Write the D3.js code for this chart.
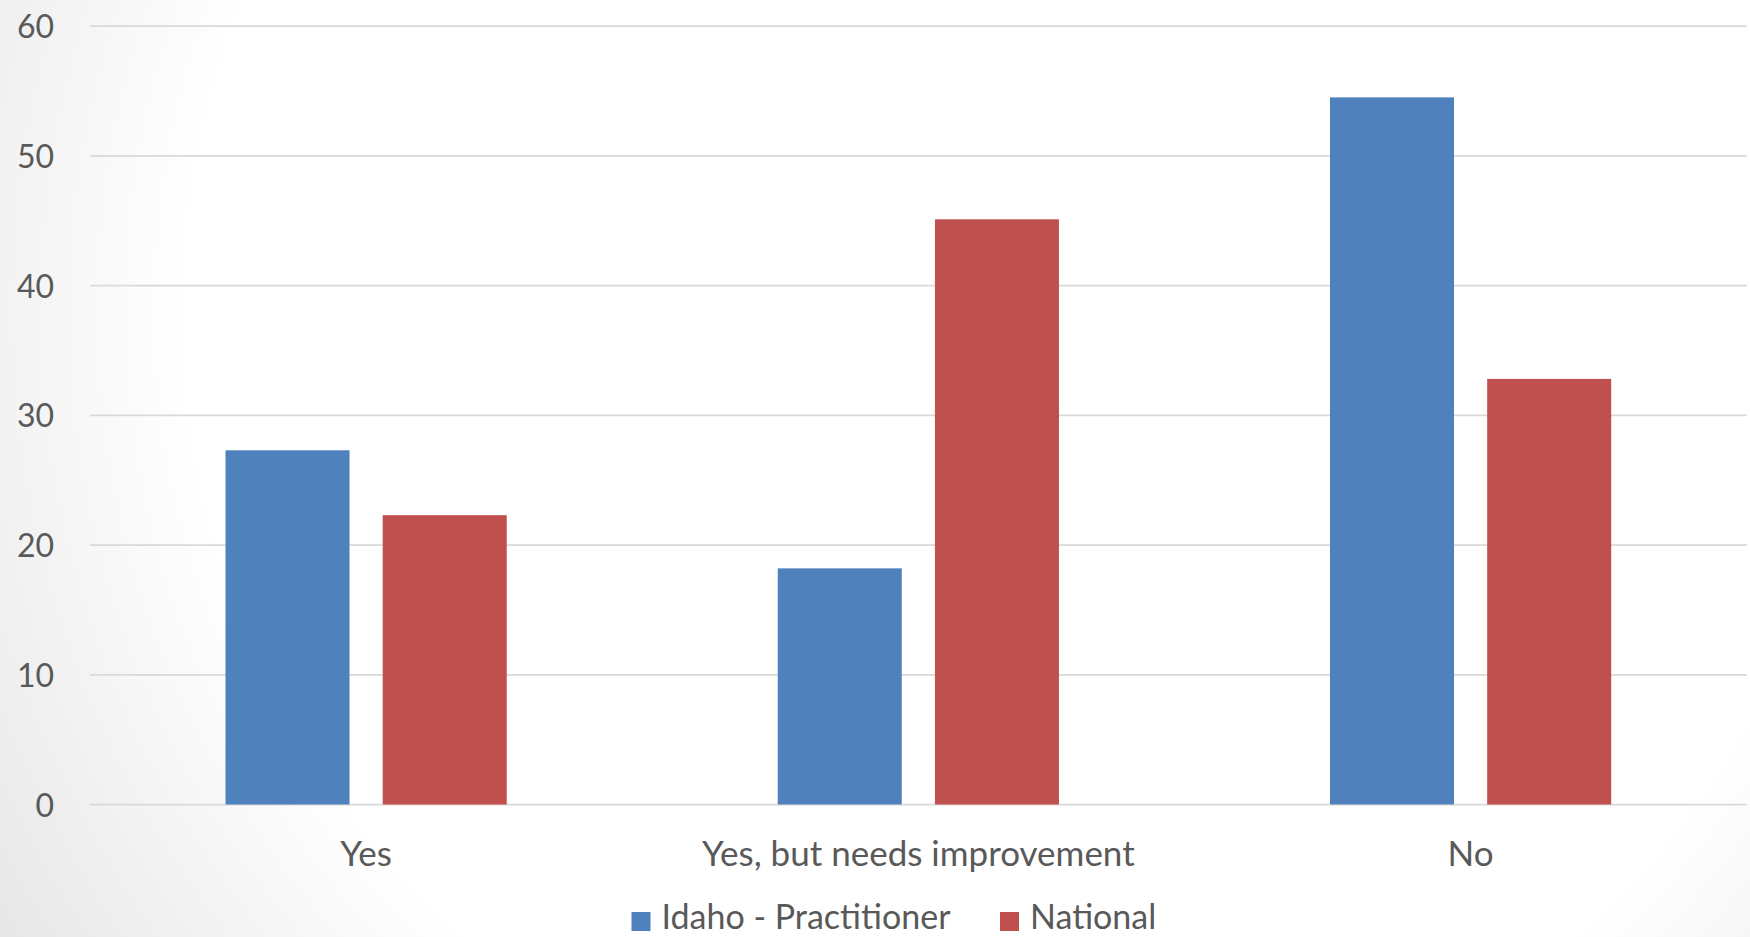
<!DOCTYPE html>
<html>
<head>
<meta charset="utf-8">
<script src="https://cdn.jsdelivr.net/npm/d3@7/dist/d3.min.js"></script>
<style>
  html, body { margin: 0; padding: 0; background: #fff; }
  svg { display: block; }
  text { font-family: Lato, "Open Sans", sans-serif; fill: #595959; }
</style>
</head>
<body>
<svg id="chart" width="1750" height="937"></svg>
<script>
const categories = ["Yes", "Yes, but needs improvement", "No"];
const seriesNames = ["Idaho - Practitioner", "National"];
const idahoValues = [27.3, 18.2, 54.5];
const nationalValues = [22.3, 45.1, 32.8];
const yTicks = [0, 10, 20, 30, 40, 50, 60];
const colors = ["#4F81BD", "#C0504D"];

const W = 1750, H = 937;
const svg = d3.select("#chart");

// background radial gradient
const defs = svg.append("defs");
const grad = defs.append("radialGradient")
  .attr("id", "bg").attr("gradientUnits", "userSpaceOnUse")
  .attr("cx", 1020).attr("cy", 310).attr("r", 1300);
grad.append("stop").attr("offset", "0.64").attr("stop-color", "#ffffff");
grad.append("stop").attr("offset", "1").attr("stop-color", "#e0e0e0");
svg.append("rect").attr("width", W).attr("height", H).attr("fill", "url(#bg)");

const plot = { left: 90, right: 1746.7, top: 26, bottom: 804.5 };

const y = d3.scaleLinear().domain([0, 60]).range([plot.bottom, plot.top]);
const x0 = d3.scaleBand().domain(categories).range([plot.left, plot.right]).padding(0);
const x1 = d3.scaleBand().domain(seriesNames).range([0, x0.bandwidth()])
  .paddingInner(0.211).paddingOuter(0.862);

// gridlines
svg.append("g").selectAll("line").data(yTicks).join("line")
  .attr("x1", plot.left).attr("x2", plot.right)
  .attr("y1", d => y(d)).attr("y2", d => y(d))
  .attr("stroke", "#d9d9d9").attr("stroke-width", 1.75);

// y tick labels
svg.append("g").selectAll("text").data(yTicks).join("text")
  .attr("x", 54).attr("y", d => y(d) + 12)
  .attr("text-anchor", "end")
  .attr("font-size", 32)
  .text(d => d);

// bars
const data = categories.map((c, i) => ({ cat: c, vals: [idahoValues[i], nationalValues[i]] }));
const groups = svg.append("g").selectAll("g").data(data).join("g")
  .attr("transform", d => `translate(${x0(d.cat)},0)`);
groups.selectAll("rect").data(d => d.vals.map((v, j) => ({ s: seriesNames[j], v, j })))
  .join("rect")
  .attr("x", d => x1(d.s))
  .attr("width", x1.bandwidth())
  .attr("y", d => y(d.v))
  .attr("height", d => y(0) - y(d.v))
  .attr("fill", d => colors[d.j]);

// category labels
svg.append("g").selectAll("text").data(categories).join("text")
  .attr("x", d => x0(d) + x0.bandwidth() / 2)
  .attr("y", 866)
  .attr("text-anchor", "middle")
  .attr("font-size", 35)
  .text(d => d);

// legend
const legend = svg.append("g");
const legendX = [631.5, 1000];
seriesNames.forEach((s, i) => {
  legend.append("rect").attr("x", legendX[i]).attr("y", 912).attr("width", 19).attr("height", 19)
    .attr("fill", colors[i]);
  legend.append("text").attr("x", legendX[i] + 30).attr("y", 929)
    .attr("font-size", 34).text(s);
});
</script>
</body>
</html>
